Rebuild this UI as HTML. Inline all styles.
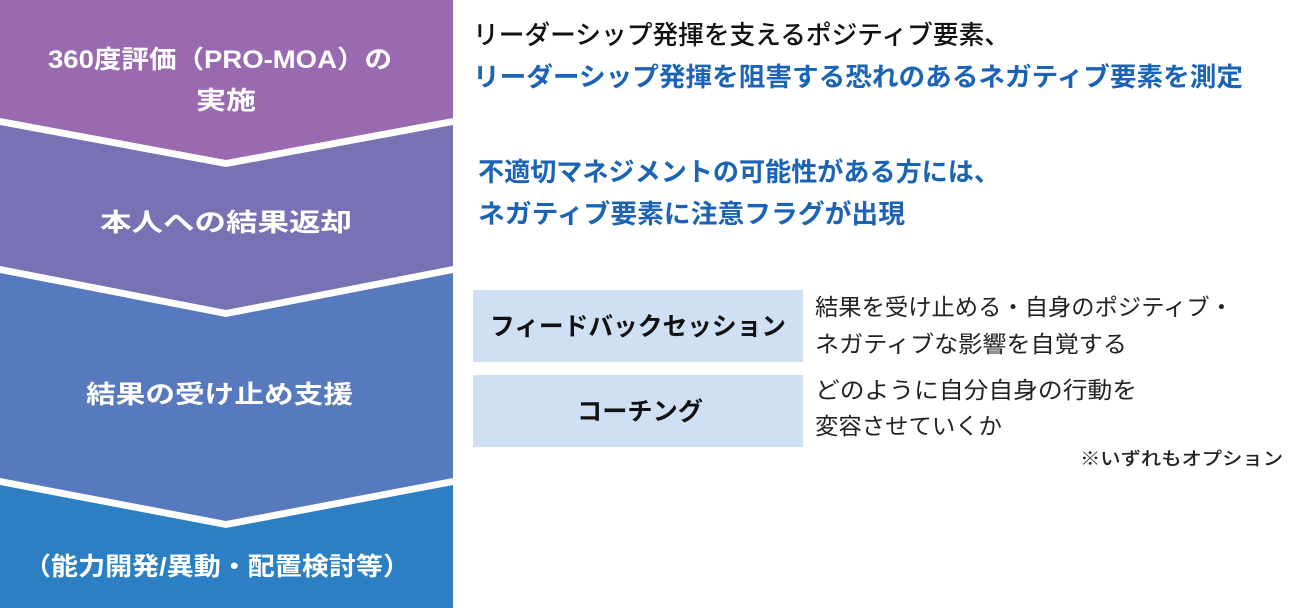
<!DOCTYPE html>
<html><head><meta charset="utf-8"><style>
html,body{margin:0;padding:0;background:#fff;width:1300px;height:608px;overflow:hidden}
svg text{font-family:"Liberation Sans","Noto Sans CJK JP",sans-serif}
</style></head><body>
<svg width="1300" height="608" viewBox="0 0 1300 608" xmlns="http://www.w3.org/2000/svg">
<polygon points="0,485 226,528 453,485 453,608 0,608" fill="#2b7fc2"/>
<polygon points="0,273 226,317 453,273 453,478 226,521 0,478" fill="#5779bd"/>
<polygon points="0,125 226,167 453,125 453,266 226,310 0,266" fill="#7672b3"/>
<polygon points="0,0 453,0 453,118 226,160 0,118" fill="#9a6ab0"/>

<g fill="#fff" font-weight="bold" font-size="25">
<text x="48" y="68" textLength="344" lengthAdjust="spacingAndGlyphs">360度評価（PRO-MOA）の</text>
<text x="196" y="109" textLength="60" lengthAdjust="spacingAndGlyphs">実施</text>
<text x="100" y="231" textLength="252" lengthAdjust="spacingAndGlyphs">本人への結果返却</text>
<text x="86" y="403" textLength="267" lengthAdjust="spacingAndGlyphs">結果の受け止め支援</text>
<text x="24" y="575" textLength="386" lengthAdjust="spacingAndGlyphs">（能力開発/異動・配置検討等）</text>
</g>

<g font-size="26">
<text x="473" y="44" fill="#111" font-weight="500" textLength="537" lengthAdjust="spacingAndGlyphs">リーダーシップ発揮を支えるポジティブ要素、</text>
<text x="473" y="86" fill="#1b63b5" font-weight="bold" textLength="770" lengthAdjust="spacingAndGlyphs">リーダーシップ発揮を阻害する恐れのあるネガティブ要素を測定</text>
<text x="478" y="181" fill="#1b63b5" font-weight="bold" textLength="522" lengthAdjust="spacingAndGlyphs">不適切マネジメントの可能性がある方には、</text>
<text x="478" y="223" fill="#1b63b5" font-weight="bold" textLength="427" lengthAdjust="spacingAndGlyphs">ネガティブ要素に注意フラグが出現</text>
</g>

<rect x="473" y="290" width="330" height="72" fill="#cfe0f4"/>
<rect x="473" y="375" width="330" height="72" fill="#cfe0f4"/>
<g font-size="25" font-weight="bold" fill="#111">
<text x="490" y="335" textLength="296" lengthAdjust="spacingAndGlyphs">フィードバックセッション</text>
<text x="577" y="420" textLength="126" lengthAdjust="spacingAndGlyphs">コーチング</text>
</g>
<g font-size="23" fill="#222">
<text x="815" y="315" textLength="418" lengthAdjust="spacingAndGlyphs">結果を受け止める・自身のポジティブ・</text>
<text x="815" y="352" textLength="312" lengthAdjust="spacingAndGlyphs">ネガティブな影響を自覚する</text>
<text x="815" y="398" textLength="322" lengthAdjust="spacingAndGlyphs">どのように自分自身の行動を</text>
<text x="815" y="434" textLength="187" lengthAdjust="spacingAndGlyphs">変容させていくか</text>
</g>
<text x="1080" y="465" font-size="18" fill="#222" font-weight="500" textLength="203" lengthAdjust="spacingAndGlyphs">※いずれもオプション</text>
</svg>
</body></html>
